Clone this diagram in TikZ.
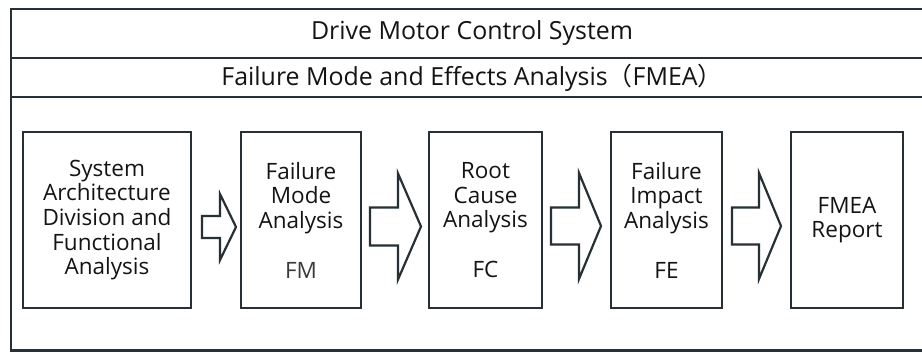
\documentclass[tikz,border=0pt]{standalone}
\usepackage{fontspec}
\setmainfont{Open Sans}
\newfontfamily\cjk{Noto Sans CJK SC}
\definecolor{ln}{HTML}{263035}
\definecolor{tx}{HTML}{141414}
\definecolor{tg}{HTML}{3A3A3A}
\tikzset{
  frameline/.style={draw=ln, line width=2.2bp},
  stagebox/.style={draw=ln, line width=2.2bp, rectangle, inner sep=0pt, align=center, text=tx,
     font=\fontsize{22.6}{24.8}\selectfont, minimum height=176bp},
  titletext/.style={text=tx, inner sep=0pt, font=\fontsize{25}{28}\selectfont},
  blockarrow/.style={draw=ln, line width=2.2bp, fill=white, line join=miter},
}
% \blkarrow{x0}{xh}{xtip}{ycenter}{shaft half}{head half}
\newcommand\blkarrow[6]{%
  \draw[blockarrow] (#1,#4-#5) -- (#2,#4-#5) -- (#2,#4-#6) -- (#3,#4) -- (#2,#4+#6) -- (#2,#4+#5) -- (#1,#4+#5) -- cycle;}
\begin{document}
\begin{tikzpicture}[x=1bp,y=-1bp]
\useasboundingbox (0,0) rectangle (922,352);
\fill[white] (0,0) rectangle (922,352);
\begin{scope}
\clip (0,0) rectangle (922,352);
% outer frame and dividers
\draw[frameline] (940,9) -- (11,9) -- (11,350.5) -- (940,350.5);
\draw[frameline] (11,58) -- (940,58);
\draw[frameline] (11,97) -- (940,97);
\end{scope}
\node[titletext] (t1) at (472,33) {Drive Motor Control System};
\node[titletext] (t2) at (472,77.5) {Failure Mode and Effects Analysis{\cjk （}FMEA{\cjk ）}};
% stages
\node[stagebox, minimum width=168bp] (b1) at (107,220) {System\\Architecture\\Division and\\Functional\\Analysis};
\node[stagebox, minimum width=120bp] (b2) at (301,220) {Failure\\Mode\\Analysis\\[24.8bp]{\color{tg}FM}};
\node[stagebox, minimum width=113bp] (b3) at (485.5,220) {Root\\Cause\\Analysis\\[24.8bp]FC};
\node[stagebox, minimum width=111bp] (b4) at (666.5,220) {Failure\\Impact\\Analysis\\[24.8bp]FE};
\node[stagebox, minimum width=112bp] (b5) at (847,220) {FMEA\\Report};
% block arrows between stages
\blkarrow{202}{220}{236}{227}{11}{33}
\blkarrow{370}{398}{421}{226.5}{19}{53}
\blkarrow{551}{579}{601}{226}{18.5}{53}
\blkarrow{732}{759}{781}{226}{18.5}{53}
\end{tikzpicture}
\end{document}
